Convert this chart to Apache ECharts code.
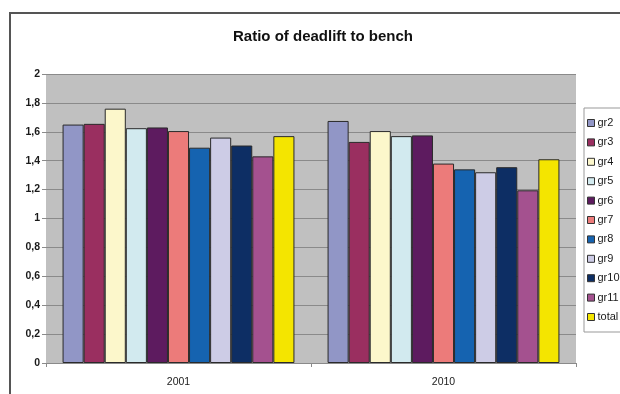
<!DOCTYPE html>
<html>
<head>
<meta charset="utf-8">
<script src="https://cdn.jsdelivr.net/npm/echarts@6/dist/echarts.min.js"></script>
<style>
  html, body { margin: 0; padding: 0; background: #fff; }
  #chart { width: 620px; height: 394px; }
</style>
</head>
<body>
<div id="chart"></div>
<script>
// Years on the category axis
const years = ['2001', '2010'];

// Group names, in legend order
const groups = ['gr2', 'gr3', 'gr4', 'gr5', 'gr6', 'gr7', 'gr8', 'gr9', 'gr10', 'gr11', 'total'];

// Deadlift / bench ratio per group: [2001, 2010]
const gr2   = [1.65, 1.675];
const gr3   = [1.655, 1.53];
const gr4   = [1.76, 1.605];
const gr5   = [1.625, 1.57];
const gr6   = [1.63, 1.575];
const gr7   = [1.605, 1.38];
const gr8   = [1.49, 1.34];
const gr9   = [1.56, 1.32];
const gr10  = [1.505, 1.355];
const gr11  = [1.43, 1.195];
const total = [1.57, 1.41];

const values = [gr2, gr3, gr4, gr5, gr6, gr7, gr8, gr9, gr10, gr11, total];

const colors = ['#9196c6', '#9a2f60', '#fcf7cb', '#d2eaef', '#5d1b5f', '#ec7b7a',
                '#1563b0', '#cdcce6', '#0d2e64', '#a4518f', '#f4e500'];

// y-axis ticks with comma decimal separator
const yTicks = ['0', '0,2', '0,4', '0,6', '0,8', '1', '1,2', '1,4', '1,6', '1,8', '2'];

const FONT = 'Liberation Sans, Arial, sans-serif';

const chart = echarts.init(document.getElementById('chart'), null, { renderer: 'canvas' });

const series = groups.map((name, i) => ({
  name: name,
  type: 'bar',
  data: values[i],
  barGap: '0%',
  barCategoryGap: '12.5%',
  itemStyle: { color: colors[i], borderColor: '#2a2a2a', borderWidth: 1 },
  emphasis: { disabled: true }
}));

chart.setOption({
  animation: false,
  backgroundColor: '#ffffff',
  textStyle: { fontFamily: FONT },
  title: {
    text: 'Ratio of deadlift to bench',
    left: 228,
    top: 24,
    textStyle: { fontSize: 15, fontWeight: 'bold', color: '#111', fontFamily: FONT }
  },
  graphic: [{
    type: 'rect',
    shape: { x: 10, y: 13, width: 700, height: 500 },
    style: { fill: 'none', stroke: '#555', lineWidth: 2 },
    silent: true
  }],
  legend: {
    orient: 'vertical',
    left: 584,
    top: 108,
    icon: 'rect',
    itemWidth: 7,
    itemHeight: 7,
    itemGap: 7.4,
    padding: [9, 4, 9, 3],
    backgroundColor: '#fff',
    borderColor: '#999',
    borderWidth: 1,
    itemStyle: { borderWidth: 1, borderColor: '#333' },
    textStyle: { fontSize: 11, lineHeight: 12, color: '#1a1a1a', padding: [0, 0, 0, -2] },
    data: groups
  },
  grid: {
    left: 46,
    right: 44,
    top: 74,
    bottom: 31,
    show: true,
    backgroundColor: '#c0c0c0',
    borderWidth: 0
  },
  xAxis: {
    type: 'category',
    data: years,
    axisLine: { show: true, lineStyle: { color: '#8a8a8a', width: 1 } },
    axisTick: { show: true, length: 4, alignWithLabel: false, lineStyle: { color: '#8a8a8a' } },
    axisLabel: { fontSize: 10.5, color: '#1a1a1a', margin: 14 }
  },
  yAxis: {
    type: 'value',
    min: 0,
    max: 2,
    interval: 0.2,
    axisLine: { show: false },
    axisTick: { show: true, length: 4, lineStyle: { color: '#8a8a8a' } },
    axisLabel: {
      fontSize: 10.5,
      color: '#1a1a1a',
      fontWeight: 'bold',
      margin: 6,
      formatter: (v) => yTicks[Math.round(v / 0.2)]
    },
    splitLine: { show: true, lineStyle: { color: '#8a8a8a', width: 1 } }
  },
  series: series
});
</script>
</body>
</html>
